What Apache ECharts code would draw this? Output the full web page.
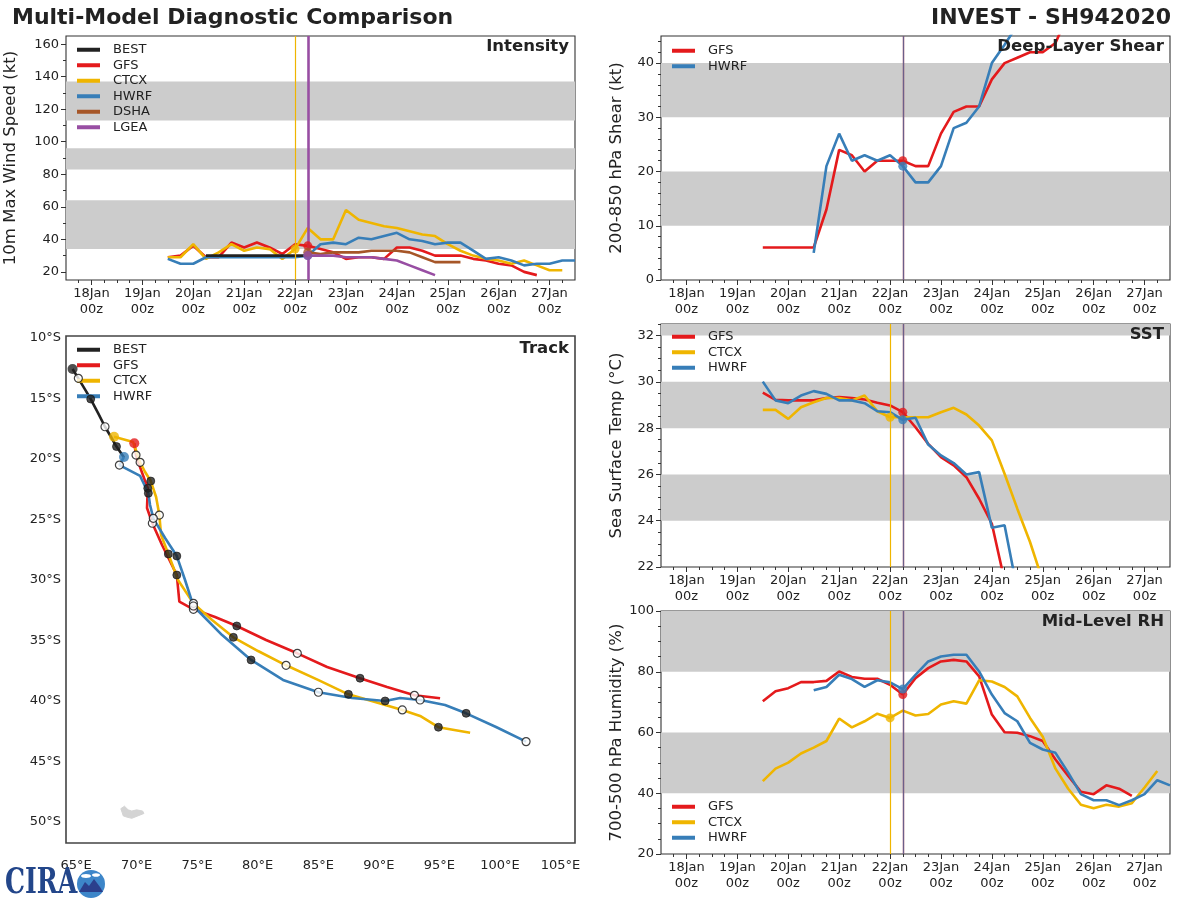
<!DOCTYPE html>
<html><head><meta charset="utf-8">
<script src="https://cdn.jsdelivr.net/npm/echarts@6/dist/echarts.min.js"></script>
<style>html,body{margin:0;padding:0;background:#fff}#c{width:1200px;height:900px}</style>
</head><body><div id="c"></div>
<script>
// ================= DATA =================
const dayHours  = [0, 24, 48, 72, 96, 120, 144, 168, 192, 216];   // hours after 18Jan 00z
const dayLabels = ['18Jan','19Jan','20Jan','21Jan','22Jan','23Jan','24Jan','25Jan','26Jan','27Jan'];
const hourLabel = '00z';

// Intensity (kt), 6-hourly from the given start hour
const intBestStart = 54;  const intBest = [30,30,30,30,30,30,30,30,30];
const intGfsStart  = 36;  const intGfs  = [29,30,36,29,29,38,35,38,35,31,37,36,34,32,28,29,29,28,35,35,33,30,30,30,28,27,25,24,20,18];
const intCtcxStart = 36;  const intCtcx = [29,29,37,28,32,37,33,35,34,28,34,47,40,40,58,52,50,48,47,45,43,42,37,33,30,28,27,25,27,24,21,21];
const intHwrfStart = 36;  const intHwrf = [28,25,25,29,29,29,29,29,29,29,29,30,37,38,37,41,40,42,44,40,39,37,38,38,33,28,29,27,24,25,25,27,27];
const intDshaStart = 102; const intDsha = [32,31,32,32,32,33,33,33,32,29,26,26,26];
const intLgeaStart = 102; const intLgea = [30,30,30,29,29,29,28,27,24,21,18];

// Deep-layer shear (kt)
const shrGfsStart  = 36;  const shrGfs  = [6,6,6,6,6,13,24,23,20,22,22,22,21,21,27,31,32,32,37,40,41,42,42,43.7,49];
const shrHwrfStart = 60;  const shrHwrf = [5,21,27,22,23,22,23,21,18,18,21,28,29,32,40,43.4,47];

// SST (deg C)
const sstGfsStart  = 36;  const sstGfs  = [29.53,29.22,29.2,29.2,29.2,29.3,29.34,29.3,29.24,29.1,28.98,28.69,28.04,27.32,26.75,26.39,25.88,24.95,23.87,21.4];
const sstCtcxStart = 36;  const sstCtcx = [28.79,28.79,28.4,28.9,29.12,29.3,29.3,29.2,29.41,28.73,28.47,28.47,28.47,28.47,28.69,28.88,28.59,28.11,27.47,26.03,24.52,23.08,21.4];
const sstHwrfStart = 36;  const sstHwrf = [30.01,29.2,29.08,29.41,29.6,29.48,29.2,29.2,29.08,28.73,28.69,28.36,28.45,27.29,26.82,26.49,26.0,26.1,23.7,23.8,21.0];

// Mid-level RH (%)
const rhGfsStart  = 36; const rhGfs  = [70.3,73.6,74.6,76.6,76.6,77.0,80.1,78.3,77.7,77.7,75.7,72.5,77.9,81.2,83.4,83.9,83.4,78.5,65.9,60.1,59.9,58.8,57.2,51.1,45.7,40.5,39.7,42.6,41.5,39.1];
const rhCtcxStart = 36; const rhCtcx = [44.0,48.1,50.1,53.1,55.0,57.2,64.6,61.7,63.7,66.2,64.8,67.2,65.6,66.1,69.2,70.3,69.5,77.2,76.8,75.0,71.9,64.8,58.6,48.1,41.5,36.2,35.1,36.2,35.6,36.7,41.9,47.3];
const rhHwrfStart = 60; const rhHwrf = [73.9,75.0,79.0,77.6,75.0,77.2,76.5,74.3,79.0,83.4,85.0,85.6,85.6,80.1,72.5,66.4,63.7,56.6,54.4,53.3,46.8,39.7,37.7,37.7,36.1,37.7,39.7,44.3,42.6];

// Forecast initial times (hours)
const initCtcx = 96, initOther = 102;

// Tracks (lon E, lat negative = S), 6-hourly from start
const trkBestStart = 54;
const trkBestLon = [64.71,65.19,65.70,66.21,66.82,67.39,67.89,68.34,68.96];
const trkBestLat = [-12.56,-13.33,-14.18,-15.04,-16.20,-17.33,-18.18,-18.97,-19.88];
const trkGfsStart = 102;
const trkGfsLon = [69.81,69.95,70.37,70.92,70.86,71.30,72.10,73.32,73.53,74.69,76.48,78.27,80.69,83.27,85.73,88.45,90.68,92.94,95.06];
const trkGfsLat = [-18.70,-19.67,-20.91,-22.42,-24.05,-25.31,-27.11,-29.59,-31.79,-32.42,-33.06,-33.80,-34.96,-36.06,-37.19,-38.12,-38.84,-39.53,-39.78];
const trkCtcxStart = 96;
const trkCtcxLon = [68.14,69.71,70.29,70.70,71.17,71.61,71.88,72.02,72.62,73.42,74.69,76.23,77.99,80.03,82.34,84.98,87.49,89.69,91.94,93.41,94.92,97.54];
const trkCtcxLat = [-18.16,-18.60,-20.27,-21.07,-21.82,-23.14,-24.63,-26.28,-27.85,-30.0,-31.93,-33.31,-34.74,-35.87,-37.05,-38.26,-39.45,-40.08,-40.74,-41.24,-42.17,-42.62];
const trkHwrfStart = 102;
const trkHwrfLon = [68.96,68.58,70.29,70.97,71.11,71.38,72.35,73.32,74.0,74.69,77.06,79.45,82.09,85.01,87.79,90.52,91.76,93.41,95.47,97.21,99.68,102.16];
const trkHwrfLat = [-19.83,-20.50,-21.40,-22.83,-23.80,-24.90,-26.53,-28.02,-30.0,-32.15,-34.55,-36.61,-38.26,-39.28,-39.75,-40.0,-39.75,-39.92,-40.33,-41.02,-42.15,-43.36];
// Kerguelen Islands outline (lon, lat)
const kergLon = [68.7,69.0,69.3,69.6,70.0,70.5,70.6,70.1,69.6,69.2,68.9,68.8];
const kergLat = [-48.9,-48.7,-49.0,-49.1,-49.0,-49.1,-49.3,-49.5,-49.7,-49.6,-49.5,-49.2];

const lonTicks = [65,70,75,80,85,90,95,100,105];
const latTicks = [-10,-15,-20,-25,-30,-35,-40,-45,-50];

// Shaded bands
const intBands = [[34,64],[83,96],[113,137]];
const shrBands = [[10,20],[30,40]];
const sstBands = [[24,26],[28,30],[32,34]];
const rhBands  = [[40,60],[80,100]];

// ================= STYLE / LAYOUT =================
const FONT = 'DejaVu Sans';
const C = {BEST:'#222222', GFS:'#e41a1c', CTCX:'#efb500', HWRF:'#377eb8', DSHA:'#a65628', LGEA:'#984ea3'};
const TMIN = -12, TMAX = 228;
const minorHours = []; for (let h = -6; h <= 222; h += 6) minorHours.push(h);
function range(a, b, s) { const r = []; for (let v = a; v <= b + 1e-9; v += s) r.push(+v.toFixed(3)); return r; }

const grids = [
  {left:66,  top:36,  width:509, height:244}, // 0 intensity
  {left:661, top:36,  width:509, height:244}, // 1 shear
  {left:66,  top:336, width:509, height:507}, // 2 track
  {left:661, top:324, width:509, height:243}, // 3 sst
  {left:661, top:611, width:509, height:243}  // 4 rh
].map(g => Object.assign(g, {show:true, borderColor:'#333', borderWidth:1.1, backgroundColor:'transparent'}));
grids[2].borderColor = '#444'; grids[2].borderWidth = 1.6;

const NOLINE = {show:false, onZero:false};
const xAxes = [], yAxes = [], AX = {};
function timePanel(key, gi, ymin, ymax, yMajor, yMinor, yName, nameGap) {
  const xi = xAxes.length;
  xAxes.push({gridIndex:gi, type:'value', position:'bottom', min:TMIN, max:TMAX,
    axisLine:NOLINE, splitLine:{show:false},
    axisTick:{show:true, customValues:dayHours, length:5, lineStyle:{color:'#333', width:1}},
    axisLabel:{show:true, customValues:dayHours, formatter:v => dayLabels[dayHours.indexOf(v)] + '\n' + hourLabel,
      fontSize:13, lineHeight:16.5, color:'#222', margin:5, fontFamily:FONT}});
  xAxes.push({gridIndex:gi, type:'value', position:'bottom', min:TMIN, max:TMAX,
    axisLine:NOLINE, splitLine:{show:false}, axisLabel:{show:false},
    axisTick:{show:true, customValues:minorHours, length:3, lineStyle:{color:'#333', width:1}}});
  const yi = yAxes.length;
  yAxes.push({gridIndex:gi, type:'value', position:'left', min:ymin, max:ymax,
    axisLine:NOLINE, splitLine:{show:false},
    axisTick:{show:true, customValues:yMajor, length:5, lineStyle:{color:'#333', width:1}},
    axisLabel:{show:true, customValues:yMajor, fontSize:13, color:'#222', margin:7, fontFamily:FONT},
    name:yName, nameLocation:'middle', nameGap:nameGap,
    nameTextStyle:{fontSize:16.5, color:'#222', fontFamily:FONT}});
  yAxes.push({gridIndex:gi, type:'value', position:'left', min:ymin, max:ymax,
    axisLine:NOLINE, splitLine:{show:false}, axisLabel:{show:false},
    axisTick:{show:true, customValues:yMinor, length:3, lineStyle:{color:'#333', width:1}}});
  AX[key] = {x:xi, y:yi, ymax:ymax};
}
timePanel('int', 0, 15, 165, range(20,160,20), range(20,160,10), '10m Max Wind Speed (kt)', 47);
timePanel('shr', 1, 0, 45, range(0,40,10), range(0,44,2), '200-850 hPa Shear (kt)', 36);
timePanel('sst', 3, 22, 32.5, range(22,32,2), range(22,32.5,0.5), 'Sea Surface Temp (°C)', 36);
timePanel('rh', 4, 20, 100, range(20,100,20), range(20,100,5), '700-500 hPa Humidity (%)', 36);

// track axes
AX.trk = {x:xAxes.length, y:yAxes.length};
xAxes.push({gridIndex:2, type:'value', position:'bottom', min:64.17, max:106.2,
  axisLine:NOLINE, splitLine:{show:false}, axisTick:{show:false},
  axisLabel:{show:true, customValues:lonTicks, formatter:v => v + '°E', fontSize:13, color:'#222', margin:16, fontFamily:FONT}});
yAxes.push({gridIndex:2, type:'value', position:'left', min:-51.74, max:-9.83,
  axisLine:NOLINE, splitLine:{show:false}, axisTick:{show:false},
  axisLabel:{show:true, customValues:latTicks, formatter:v => (-v) + '°S', fontSize:13, color:'#222', margin:5, fontFamily:FONT}});

// ================= SERIES =================
const series = [];
function pts(start, vals) { return vals.map((v, i) => [start + 6 * i, v]); }
function bands(key, list) {
  const ymax = AX[key].ymax;
  series.push({type:'line', xAxisIndex:AX[key].x, yAxisIndex:AX[key].y, data:[], silent:true, z:1,
    markArea:{silent:true, itemStyle:{color:'#cccccc'},
      data:list.map(b => [{yAxis:b[0]}, {yAxis:Math.min(b[1], ymax)}])}});
}
function vlines(key, lines) {
  series.push({type:'line', xAxisIndex:AX[key].x, yAxisIndex:AX[key].y, data:[], silent:true, z:6,
    markLine:{silent:true, symbol:'none', label:{show:false}, animation:false,
      data:lines.map(l => ({xAxis:l[0], lineStyle:{color:l[1], width:l[2], type:'solid', opacity:l[3] || 1}}))}});
}
function line(key, name, start, vals, z) {
  series.push({type:'line', name:name, xAxisIndex:AX[key].x, yAxisIndex:AX[key].y,
    data:pts(start, vals), showSymbol:false, symbol:'none', color:C[name],
    lineStyle:{color:C[name], width:2.6}, itemStyle:{color:C[name]}, z:z || 3, clip:true});
}
function dot(key, name, start, vals, initH) {
  const i = (initH - start) / 6;
  series.push({type:'scatter', name:name + '-init', xAxisIndex:AX[key].x, yAxisIndex:AX[key].y,
    data:[[initH, vals[i]]], symbolSize:9, itemStyle:{color:C[name]}, z:8, silent:true});
}

// Intensity
bands('int', intBands);
vlines('int', [[initCtcx, C.CTCX, 1.2], [initOther, C.LGEA, 2.6]]);
line('int', 'GFS', intGfsStart, intGfs);
line('int', 'CTCX', intCtcxStart, intCtcx);
line('int', 'HWRF', intHwrfStart, intHwrf);
line('int', 'DSHA', intDshaStart, intDsha);
line('int', 'BEST', intBestStart, intBest, 4);
line('int', 'LGEA', intLgeaStart, intLgea, 4);
dot('int', 'CTCX', intCtcxStart, intCtcx, initCtcx);
dot('int', 'GFS', intGfsStart, intGfs, initOther);
dot('int', 'HWRF', intHwrfStart, intHwrf, initOther);
dot('int', 'DSHA', intDshaStart, intDsha, initOther);
dot('int', 'LGEA', intLgeaStart, intLgea, initOther);

// Shear
bands('shr', shrBands);
vlines('shr', [[initOther, C.GFS, 1.3], [initOther, C.HWRF, 1.3, 0.7]]);
line('shr', 'GFS', shrGfsStart, shrGfs);
line('shr', 'HWRF', shrHwrfStart, shrHwrf);
dot('shr', 'GFS', shrGfsStart, shrGfs, initOther);
dot('shr', 'HWRF', shrHwrfStart, shrHwrf, initOther);

// SST
bands('sst', sstBands);
vlines('sst', [[initCtcx, C.CTCX, 1.2], [initOther, C.GFS, 1.3], [initOther, C.HWRF, 1.3, 0.7]]);
line('sst', 'GFS', sstGfsStart, sstGfs);
line('sst', 'CTCX', sstCtcxStart, sstCtcx);
line('sst', 'HWRF', sstHwrfStart, sstHwrf);
dot('sst', 'GFS', sstGfsStart, sstGfs, initOther);
dot('sst', 'CTCX', sstCtcxStart, sstCtcx, initCtcx);
dot('sst', 'HWRF', sstHwrfStart, sstHwrf, initOther);

// RH
bands('rh', rhBands);
vlines('rh', [[initCtcx, C.CTCX, 1.2], [initOther, C.GFS, 1.3], [initOther, C.HWRF, 1.3, 0.7]]);
line('rh', 'GFS', rhGfsStart, rhGfs);
line('rh', 'CTCX', rhCtcxStart, rhCtcx);
line('rh', 'HWRF', rhHwrfStart, rhHwrf);
dot('rh', 'GFS', rhGfsStart, rhGfs, initOther);
dot('rh', 'CTCX', rhCtcxStart, rhCtcx, initCtcx);
dot('rh', 'HWRF', rhHwrfStart, rhHwrf, initOther);

// Track
series.push({type:'custom', xAxisIndex:AX.trk.x, yAxisIndex:AX.trk.y, silent:true, z:1,
  data:[0],
  renderItem:(params, api) => ({type:'polygon',
    shape:{points:kergLon.map((lo, i) => api.coord([lo, kergLat[i]]))},
    style:{fill:'#d4d4d4', stroke:'#d4d4d4', lineWidth:1}})});
function track(name, start, lons, lats, z) {
  series.push({type:'line', name:name, xAxisIndex:AX.trk.x, yAxisIndex:AX.trk.y,
    data:lons.map((lo, i) => [lo, lats[i]]), showSymbol:false, symbol:'none', color:C[name],
    lineStyle:{color:C[name], width:2.6}, itemStyle:{color:C[name]}, z:z});
  const filled = [], open = [];
  lons.forEach((lo, i) => {
    if (i === 0) return;
    const h = start + 6 * i;
    if (h % 24 === 0) filled.push([lo, lats[i]]);
    else if (h % 24 === 12) open.push([lo, lats[i]]);
  });
  series.push({type:'scatter', xAxisIndex:AX.trk.x, yAxisIndex:AX.trk.y, data:filled, symbolSize:8,
    itemStyle:{color:'#222', borderColor:'#111', borderWidth:0.8}, z:9, silent:true});
  series.push({type:'scatter', xAxisIndex:AX.trk.x, yAxisIndex:AX.trk.y, data:open, symbolSize:8,
    itemStyle:{color:'#ffffff', borderColor:'#111', borderWidth:1.2}, z:9, silent:true});
  series.push({type:'scatter', xAxisIndex:AX.trk.x, yAxisIndex:AX.trk.y, data:[[lons[0], lats[0]]], symbolSize:10,
    itemStyle:{color:C[name]}, z:10, silent:true});
}
track('BEST', trkBestStart, trkBestLon, trkBestLat, 3);
track('GFS', trkGfsStart, trkGfsLon, trkGfsLat, 3);
track('CTCX', trkCtcxStart, trkCtcxLon, trkCtcxLat, 3);
track('HWRF', trkHwrfStart, trkHwrfLon, trkHwrfLat, 3);

// ================= LEGENDS =================
function legend(names, left, top) {
  return {orient:'vertical', left:left, top:top, data:names, icon:'rect', itemWidth:23, itemHeight:4, itemGap:0,
    selectedMode:false, padding:0,
    textStyle:{fontSize:13, color:'#222', fontFamily:FONT, lineHeight:15.5, padding:[0,0,0,8]}};
}

// ================= GRAPHICS (titles, logo) =================
function txt(s, x, y, size, align, bold) {
  return {type:'text', x:x, y:y, z:20, silent:true,
    style:{text:s, font:(bold ? 'bold ' : '') + size + 'px "' + FONT + '"', fill:'#222', align:align, verticalAlign:'middle'}};
}
const graphics = [
  txt('Multi-Model Diagnostic Comparison', 12, 18, 22, 'left', true),
  txt('INVEST - SH942020', 1171, 18, 22, 'right', true),
  txt('Intensity', 569, 47, 16.5, 'right', true),
  txt('Deep-Layer Shear', 1164, 47, 16.6, 'right', true),
  txt('Track', 569, 349, 16.5, 'right', true),
  txt('SST', 1164, 335, 16.5, 'right', true),
  txt('Mid-Level RH', 1164, 622, 16.5, 'right', true),
  // CIRA logo (approximation)
  {type:'text', x:5, y:884, z:20, silent:true, scaleX:0.72,
    style:{text:'CIRA', font:'bold 35px "DejaVu Serif"', fill:'#23468a', verticalAlign:'middle', align:'left'}},
  {type:'circle', shape:{cx:91, cy:884, r:14}, z:20, silent:true, style:{fill:'#3d86c9'}},
  {type:'polygon', shape:{points:[[79,892],[85,882],[89,886],[94,879],[100,887],[103,892]]}, z:21, silent:true, style:{fill:'#2b3f8c'}},
  {type:'ellipse', shape:{cx:86, cy:876, rx:5, ry:2}, z:21, silent:true, style:{fill:'#ffffff'}},
  {type:'ellipse', shape:{cx:96, cy:875, rx:4, ry:1.8}, z:21, silent:true, style:{fill:'#ffffff'}}
];

const chart = echarts.init(document.getElementById('c'), null, {renderer:'canvas', width:1200, height:900});
chart.setOption({
  animation:false,
  backgroundColor:'#ffffff',
  textStyle:{fontFamily:FONT},
  grid:grids,
  xAxis:xAxes,
  yAxis:yAxes,
  legend:[
    legend(['BEST','GFS','CTCX','HWRF','DSHA','LGEA'], 77, 42),
    legend(['GFS','HWRF'], 672, 43),
    legend(['BEST','GFS','CTCX','HWRF'], 77, 342),
    legend(['GFS','CTCX','HWRF'], 672, 329),
    legend(['GFS','CTCX','HWRF'], 672, 799)
  ],
  series:series,
  graphic:graphics
});
</script>
</body></html>
